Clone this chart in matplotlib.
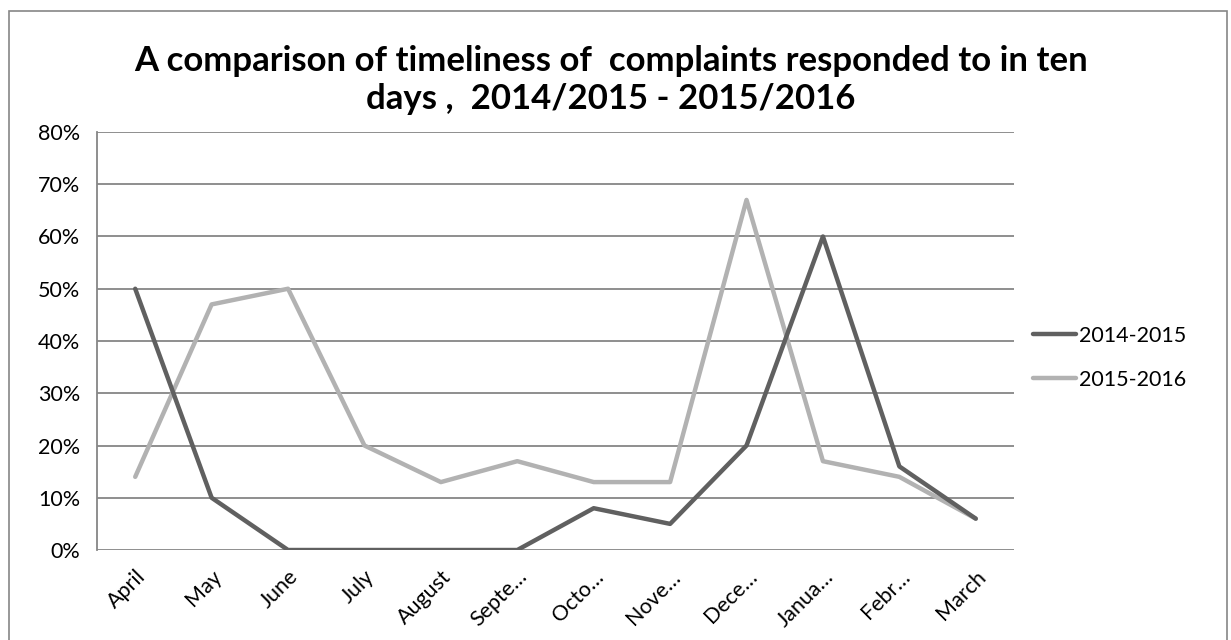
import matplotlib.pyplot as plt
import matplotlib.patches as mpatches
from matplotlib.ticker import PercentFormatter

plt.rcParams['font.family'] = ['Lato', 'DejaVu Sans']

# 数据
months = ['April', 'May', 'June', 'July', 'August', 'Septe…', 'Octo…',
          'Nove…', 'Dece…', 'Janua…', 'Febr…', 'March']
s_2014_2015 = [50, 10, 0, 0, 0, 0, 8, 5, 20, 60, 16, 6]
s_2015_2016 = [14, 47, 50, 20, 13, 17, 13, 13, 67, 17, 14, 6]
y_ticks = [0, 10, 20, 30, 40, 50, 60, 70, 80]

GRID = '#868686'

fig = plt.figure(figsize=(12.31, 6.4), dpi=100)
ax = fig.add_axes([0.0788, 0.1406, 0.8417 - 0.0788 - 0.018, 0.7938 - 0.1406])

# 外框
fig.patches.append(mpatches.Rectangle((9 / 1231, -0.02), 1218 / 1231, 1 - 11 / 640 + 0.02,
                                      transform=fig.transFigure, fill=False,
                                      edgecolor=GRID, linewidth=1.2))

x = range(len(months))
ax.plot(x, s_2014_2015, color='#606060', linewidth=3.2, label='2014-2015',
        solid_capstyle='round', solid_joinstyle='round', zorder=3)
ax.plot(x, s_2015_2016, color='#b2b2b2', linewidth=3.2, label='2015-2016',
        solid_capstyle='round', solid_joinstyle='round', zorder=2)

ax.set_xlim(-0.5, len(months) - 0.5)
ax.set_ylim(0, 80)
ax.set_yticks(y_ticks)
ax.yaxis.set_major_formatter(PercentFormatter(decimals=0))
ax.set_xticks(list(x))
ax.set_xticklabels(months, rotation=45, ha='right', rotation_mode='anchor')
ax.tick_params(axis='both', length=0, labelsize=15.5, colors='black')
ax.tick_params(axis='x', pad=12)
ax.tick_params(axis='y', pad=12)

ax.yaxis.grid(True, color=GRID, linewidth=1.3)
ax.set_axisbelow(True)
for side in ['top', 'right', 'bottom']:
    ax.spines[side].set_visible(False)
ax.spines['left'].set_color(GRID)
ax.spines['left'].set_linewidth(1.3)

fig.text(0.496, 0.875, 'A comparison of timeliness of  complaints responded to in ten\ndays ,  2014/2015 - 2015/2016',
         ha='center', va='center', fontsize=25, fontweight='bold', linespacing=1.2)

ax.legend(loc='center left', bbox_to_anchor=(1.0, 0.46), frameon=False,
          fontsize=15.5, handlelength=2.0, handletextpad=0.1, labelspacing=1.1)

fig.savefig('out.png', dpi=100, facecolor='white')
